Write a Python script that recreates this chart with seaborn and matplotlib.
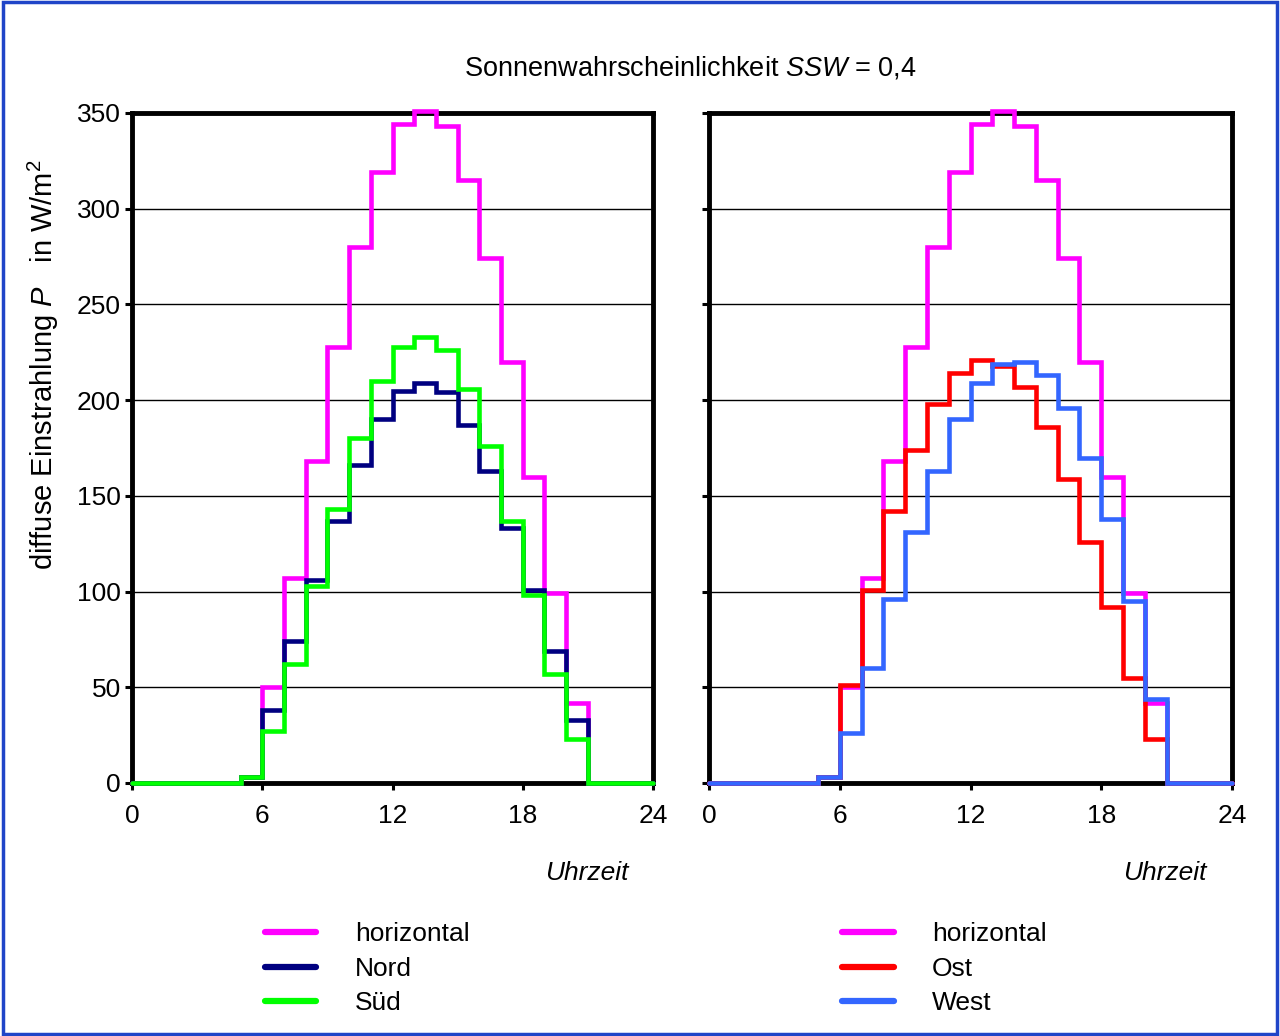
import numpy as np
import pandas as pd
import matplotlib
matplotlib.use("Agg")
import matplotlib.pyplot as plt
import seaborn as sns
from matplotlib.lines import Line2D
from matplotlib.patches import Rectangle

# ===================== DATEN =====================
stunden = list(range(25))  # 0..24 h, Stufenwert gilt fuer [h, h+1)

horizontal = [0, 0, 0, 0, 0, 3, 50, 107, 168, 228, 280, 319, 344, 351, 343, 315, 274, 220, 160, 99, 42, 0, 0, 0]
nord = [0, 0, 0, 0, 0, 3, 38, 74, 106, 137, 166, 190, 205, 209, 204, 187, 163, 133, 101, 69, 33, 0, 0, 0]
sued = [0, 0, 0, 0, 0, 3, 27, 62, 103, 143, 180, 210, 228, 233, 226, 206, 176, 137, 98, 57, 23, 0, 0, 0]
ost = [0, 0, 0, 0, 0, 3, 51, 101, 142, 174, 198, 214, 221, 218, 207, 186, 159, 126, 92, 55, 23, 0, 0, 0]
west = [0, 0, 0, 0, 0, 3, 26, 60, 96, 131, 163, 190, 209, 219, 220, 213, 196, 170, 138, 95, 44, 0, 0, 0]

farben = {"horizontal": "#ff00ff", "Nord": "#000080", "Süd": "#00ff00",
          "Ost": "#ff0000", "West": "#3366ff"}

links = {"horizontal": horizontal, "Nord": nord, "Süd": sued}
rechts = {"horizontal": horizontal, "Ost": ost, "West": west}


def lang(reihen):
    teile = []
    for name, werte in reihen.items():
        w = list(werte) + [werte[-1]]
        teile.append(pd.DataFrame({"stunde": stunden, "P": w, "reihe": name}))
    return pd.concat(teile, ignore_index=True)


# ===================== STIL =====================
sns.set_style("white")
plt.rcParams["font.family"] = ["Liberation Sans", "DejaVu Sans"]
plt.rcParams["mathtext.fontset"] = "custom"
plt.rcParams["mathtext.rm"] = "Liberation Sans"
plt.rcParams["mathtext.it"] = "Liberation Sans:italic"
plt.rcParams["text.color"] = "black"
plt.rcParams["xtick.color"] = "black"
plt.rcParams["ytick.color"] = "black"
plt.rcParams["axes.labelcolor"] = "black"

fs = 19

fig = plt.figure(figsize=(12.8, 10.36), dpi=100)
ax1 = fig.add_axes([132 / 1280, 1 - 783 / 1036, 521 / 1280, 670 / 1036])
ax2 = fig.add_axes([709 / 1280, 1 - 783 / 1036, 523 / 1280, 670 / 1036])

for ax, reihen in [(ax1, links), (ax2, rechts)]:
    df = lang(reihen)
    sns.lineplot(data=df, x="stunde", y="P", hue="reihe", palette=farben,
                 hue_order=list(reihen.keys()), drawstyle="steps-post",
                 linewidth=3.3, ax=ax, legend=False, zorder=3,
                 solid_joinstyle="miter", clip_on=False)
    ax.set_xlim(0, 24)
    ax.set_ylim(0, 350)
    ax.set_xticks([0, 6, 12, 18, 24])
    ax.set_yticks(range(0, 351, 50))
    for y in range(50, 350, 50):
        ax.axhline(y, color="black", lw=1.0, zorder=1)
    for s in ax.spines.values():
        s.set_visible(True)
        s.set_color("black")
        s.set_linewidth(3.5)
        s.set_zorder(2)
    ax.tick_params(axis="both", direction="out", length=5, width=2.2,
                   color="black", labelsize=fs, pad=3, bottom=True, left=True)
    ax.tick_params(axis="x", pad=10)
    ax.set_xlabel("")
    ax.set_ylabel("")
    ax.text(0.872, -0.135, "Uhrzeit", transform=ax.transAxes, style="italic",
            fontsize=fs, ha="center", va="center")

    handles = [Line2D([0], [0], color=farben[n], lw=4.5) for n in reihen]
    ax.legend(handles, list(reihen.keys()), loc="upper left",
              bbox_to_anchor=(0.235, -0.192),
              frameon=False, fontsize=fs, handlelength=1.95,
              handletextpad=1.45, labelspacing=0.4, borderaxespad=0)

ax2.set_yticklabels([])
ax1.set_ylabel(r"diffuse Einstrahlung $P$   in W/m$^2$", fontsize=21)
ax1.yaxis.set_label_coords(-0.137, 0.625)

fig.text(690 / 1280, 1 - 68 / 1036, r"Sonnenwahrscheinlichkeit $SSW$ = 0,4",
         ha="center", va="center", fontsize=fs + 0.5)

fig.patches.append(Rectangle((0.002, 0.002), 0.996, 0.996, transform=fig.transFigure,
                             fill=False, edgecolor="#1f45c8", lw=2.5))

fig.savefig("out.png", dpi=100, facecolor="white")
